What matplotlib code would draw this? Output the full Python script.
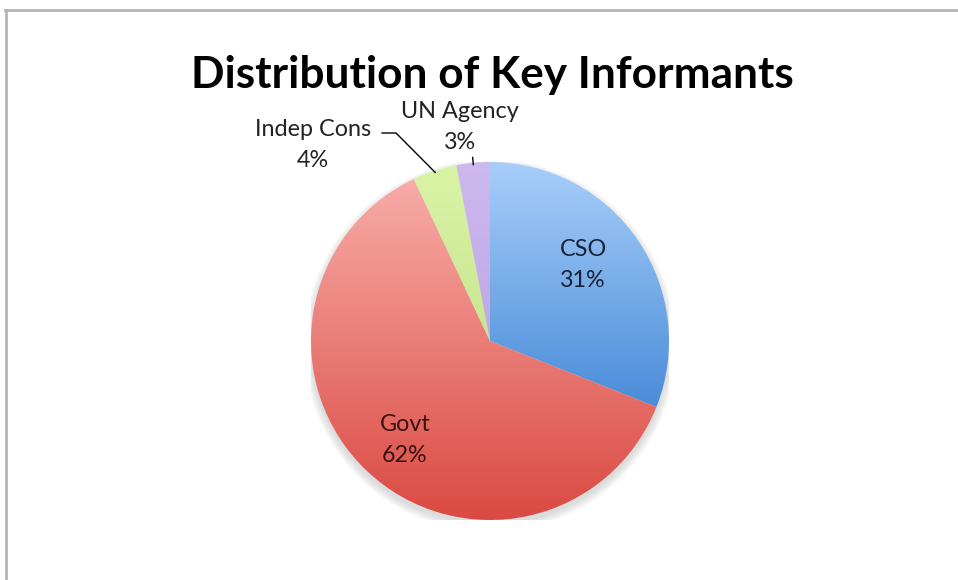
import numpy as np
import matplotlib
matplotlib.use("Agg")
import matplotlib.pyplot as plt
from matplotlib.colors import LinearSegmentedColormap
from matplotlib.patches import Circle
from matplotlib.lines import Line2D

categories = ["CSO", "Govt", "Indep Cons", "UN Agency"]
shares = [31, 62, 4, 3]
pct_labels = ["31%", "62%", "4%", "3%"]
top_colors = ["#a8cef9", "#f8aca8", "#d9f4a6", "#cdb9ee"]
bottom_colors = ["#4a8cd9", "#da4a42", "#c9e690", "#c0a8e4"]
text_colors = ["#14233a", "#3a1210", "#222222", "#222222"]
# label centres (pie radius units)
label_pos = [(0.52, 0.425), (-0.475, -0.553), (-0.99, 1.095), (-0.17, 1.195)]

W, H = 958, 580
cx, cy, r = 490, 341, 179

fig = plt.figure(figsize=(W / 100, H / 100), dpi=100)
ax = fig.add_axes([(cx - r) / W, (H - cy - r) / H, 2 * r / W, 2 * r / H])
ax.set_xlim(-1, 1)
ax.set_ylim(-1, 1)
ax.set_aspect("equal")
ax.axis("off")

# soft shadow under the pie
for k in range(8):
    ax.add_patch(Circle((0, -0.025), 1.0 + 0.006 * k, color="#808080",
                        alpha=0.035, lw=0, zorder=0))

wedges, _ = ax.pie(shares, startangle=90, counterclock=False, radius=1,
                   wedgeprops=dict(linewidth=0, edgecolor="none"))

for i, w in enumerate(wedges):
    w.set_facecolor("none")
    t = np.linspace(np.radians(w.theta1), np.radians(w.theta2), 100)
    ys = np.concatenate([[0], np.sin(t)])
    xs = np.concatenate([[0], np.cos(t)])
    cmap = LinearSegmentedColormap.from_list("g%d" % i, [bottom_colors[i], top_colors[i]])
    grad = np.linspace(0, 1, 256).reshape(-1, 1)
    im = ax.imshow(grad, cmap=cmap, origin="lower", aspect="auto",
                   extent=[xs.min(), xs.max(), ys.min(), ys.max()], zorder=1)
    im.set_clip_path(w)

ax.set_xlim(-1, 1)
ax.set_ylim(-1, 1)

font = "Lato"
for i, (x, y) in enumerate(label_pos):
    ax.text(x, y + 0.087, categories[i], ha="center", va="center", fontsize=16.8,
            color=text_colors[i], family=font)
    ax.text(x, y - 0.087, pct_labels[i], ha="center", va="center", fontsize=16.8,
            color=text_colors[i], family=font)

# leader lines
mids = [np.radians((w.theta1 + w.theta2) / 2) for w in wedges]
ex, ey = np.cos(mids[2]), np.sin(mids[2])
ax.plot([-0.603, -0.525, ex * 0.99], [1.162, 1.162, ey * 0.99], color="black",
        lw=1, clip_on=False, zorder=3)
ux, uy = np.cos(mids[3]), np.sin(mids[3])
ax.plot([ux * 0.99, ux * 1.03], [uy * 0.99, uy * 1.03], color="black",
        lw=1, clip_on=False, zorder=3)

fig.text(492 / W, 1 - 75 / H, "Distribution of Key Informants", ha="center",
         va="center", fontsize=31.8, fontweight="bold", family=font)

# chart frame
fig.add_artist(Line2D([5 / W, 1], [1 - 10 / H, 1 - 10 / H], color="#b4b4b4", lw=2))
fig.add_artist(Line2D([6 / W, 6 / W], [0, 1 - 10 / H], color="#b4b4b4", lw=2))

fig.savefig("out.png", dpi=100)
